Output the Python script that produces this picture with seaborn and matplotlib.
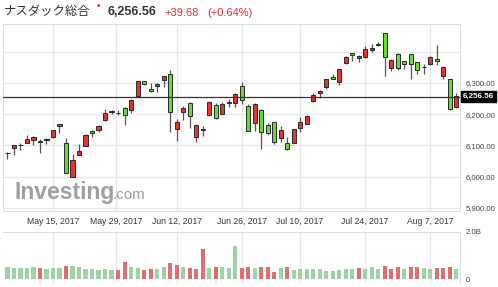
import matplotlib
matplotlib.use("Agg")
import matplotlib.pyplot as plt
import matplotlib.transforms as mtransforms
import seaborn as sns
import pandas as pd
import numpy as np

# ---------------- data ----------------
dates = ["May 4", "May 5", "May 8", "May 9", "May 10", "May 11", "May 12",
         "May 15", "May 16", "May 17", "May 18", "May 19",
         "May 22", "May 23", "May 24", "May 25", "May 26",
         "May 30", "May 31", "Jun 1", "Jun 2",
         "Jun 5", "Jun 6", "Jun 7", "Jun 8", "Jun 9",
         "Jun 12", "Jun 13", "Jun 14", "Jun 15", "Jun 16",
         "Jun 19", "Jun 20", "Jun 21", "Jun 22", "Jun 23",
         "Jun 26", "Jun 27", "Jun 28", "Jun 29", "Jun 30",
         "Jul 3", "Jul 5", "Jul 6", "Jul 7",
         "Jul 10", "Jul 11", "Jul 12", "Jul 13", "Jul 14",
         "Jul 17", "Jul 18", "Jul 19", "Jul 20", "Jul 21",
         "Jul 24", "Jul 25", "Jul 26", "Jul 27", "Jul 28",
         "Jul 31", "Aug 1", "Aug 2", "Aug 3", "Aug 4",
         "Aug 7", "Aug 8", "Aug 9", "Aug 10", "Aug 11"]

opens = [6075, 6091, 6101, 6109, 6118, 6110, 6116, 6127, 6161, 6107,
         5999, 6069, 6098, 6147, 6151, 6183, 6208, 6205, 6221, 6215,
         6257, 6305, 6280, 6289, 6310, 6330, 6152, 6206, 6237, 6126,
         6153, 6196, 6229, 6202, 6240, 6236, 6291, 6226, 6173, 6215,
         6164, 6174, 6123, 6108, 6109, 6155, 6170, 6241, 6268, 6288,
         6320, 6304, 6363, 6396, 6381, 6382, 6406, 6425, 6459, 6347,
         6393, 6371, 6392, 6366, 6350, 6360, 6376, 6322, 6313, 6223]

closes = [6077, 6100, 6103, 6120, 6127, 6114, 6120, 6148, 6169, 6012,
          6053, 6083, 6133, 6139, 6163, 6203, 6210, 6203, 6198, 6247,
          6306, 6296, 6275, 6298, 6321, 6208, 6175, 6220, 6194, 6165,
          6151, 6239, 6188, 6234, 6237, 6265, 6247, 6146, 6234, 6144,
          6140, 6110, 6151, 6089, 6153, 6176, 6194, 6261, 6275, 6313,
          6314, 6344, 6384, 6390, 6388, 6410, 6413, 6423, 6382, 6373,
          6348, 6362, 6361, 6341, 6351, 6384, 6370, 6352, 6217, 6257]

highs = [6080, 6102, 6107, 6135, 6129, 6121, 6125, 6151, 6170, 6124,
         6071, 6104, 6136, 6148, 6165, 6216, 6212, 6212, 6222, 6248,
         6308, 6307, 6301, 6301, 6324, 6341, 6184, 6227, 6238, 6168,
         6161, 6241, 6235, 6238, 6248, 6269, 6304, 6232, 6236, 6217,
         6171, 6175, 6161, 6126, 6154, 6190, 6199, 6267, 6279, 6314,
         6329, 6345, 6386, 6397, 6389, 6419, 6425, 6432, 6461, 6378,
         6396, 6372, 6393, 6367, 6362, 6386, 6422, 6353, 6314, 6267]

lows = [6055, 6068, 6084, 6108, 6103, 6077, 6105, 6125, 6140, 6011,
        5998, 6068, 6097, 6126, 6142, 6177, 6201, 6198, 6165, 6203,
        6256, 6293, 6272, 6272, 6287, 6143, 6113, 6183, 6155, 6110,
        6131, 6195, 6186, 6200, 6223, 6224, 6234, 6145, 6147, 6087,
        6132, 6106, 6111, 6085, 6108, 6144, 6168, 6240, 6252, 6282,
        6312, 6293, 6362, 6369, 6366, 6380, 6400, 6417, 6322, 6338,
        6341, 6346, 6314, 6330, 6330, 6358, 6359, 6314, 6215, 6221]

volume_b = [0.50, 0.46, 0.46, 0.46, 0.50, 0.46, 0.43, 0.47, 0.47, 0.56,
            0.54, 0.53, 0.43, 0.43, 0.39, 0.43, 0.39, 0.39, 0.72, 0.49,
            0.47, 0.39, 0.43, 0.43, 0.50, 0.67, 0.60, 0.53, 0.46, 0.43,
            1.29, 0.46, 0.49, 0.52, 0.47, 1.40, 0.46, 0.50, 0.46, 0.53,
            0.49, 0.29, 0.46, 0.52, 0.39, 0.42, 0.42, 0.42, 0.42, 0.36,
            0.36, 0.37, 0.42, 0.42, 0.46, 0.42, 0.50, 0.42, 0.56, 0.42,
            0.49, 0.42, 0.50, 0.50, 0.47, 0.42, 0.46, 0.46, 0.50, 0.42]

volume_dir = ["g", "g", "g", "g", "g", "r", "g", "g", "g", "r",
              "g", "g", "g", "g", "g", "g", "g", "r", "r", "g",
              "g", "r", "r", "g", "g", "r", "r", "g", "r", "r",
              "r", "g", "r", "g", "g", "g", "r", "r", "g", "r",
              "r", "r", "g", "r", "g", "g", "g", "g", "g", "g",
              "g", "g", "g", "g", "r", "g", "g", "g", "r", "r",
              "r", "g", "r", "r", "g", "g", "r", "r", "r", "g"]

tick_labels = ["May 15, 2017", "May 29, 2017", "Jun 12, 2017", "Jun 26, 2017",
               "Jul 10, 2017", "Jul 24, 2017", "Aug 7, 2017"]
tick_pos = [7, 16.7, 26, 36, 45, 55, 65]

price_ticks = [5900, 6000, 6100, 6200, 6300, 6400]
price_tick_labels = ["5,900.00", "6,000.00", "6,100.00", "6,200.00", "6,300.00", ""]

last_price = 6256.56
title_name = "ナスダック総合"
title_price = "6,256.56"
title_change = "+39.68"
title_pct = "(+0.64%)"

# ---------------- style ----------------
sns.set_style("white")
plt.rcParams["font.family"] = ["Liberation Sans", "DejaVu Sans"]

W, H = 498, 287
fig = plt.figure(figsize=(W / 100, H / 100), dpi=100)

def fx(px):
    return px / W

def fy(py):
    return 1 - py / H

grid_c = "#e6e6ee"
border_c = "#dcdce4"
up_c = "#e8332b"
down_c = "#66dd2e"

ax = fig.add_axes([fx(3), fy(211), fx(460) - fx(3), fy(24) - fy(211)])
axv = fig.add_axes([fx(3), fy(283), fx(460) - fx(3), fy(232) - fy(283)])

df = pd.DataFrame({"date": dates, "open": opens, "high": highs, "low": lows,
                   "close": closes, "vol": volume_b, "vdir": volume_dir})
df["i"] = np.arange(len(df))
df["up"] = df["close"] >= df["open"]
df["body_lo"] = df[["open", "close"]].min(axis=1)
df["body_h"] = (df["close"] - df["open"]).abs().clip(lower=0.9)

for t in price_ticks:
    ax.axhline(t, color=grid_c, lw=0.9, zorder=0)
for p in tick_pos:
    ax.axvline(p, color=grid_c, lw=0.9, zorder=0)
    axv.axvline(p, color=grid_c, lw=0.9, zorder=0)

# watermark
ax.text(fx(14), fy(199), "Investing", transform=fig.transFigure, fontsize=16.5,
        fontweight="bold", color="#8e8e8e", alpha=0.85, va="baseline", ha="left", zorder=1)
ax.text(fx(113), fy(199), ".com", transform=fig.transFigure, fontsize=11,
        color="#8e8e8e", alpha=0.85, va="baseline", ha="left", zorder=1)

# candles
ax.vlines(df["i"], df["low"], df["high"], color="#555555", lw=0.9, zorder=2)
ax.bar(df["i"], df["body_h"], bottom=df["body_lo"], width=0.62,
       color=[up_c if u else down_c for u in df["up"]],
       edgecolor="#2a2a2a", linewidth=0.7, zorder=3)

ax.axhline(last_price, color="#333333", lw=0.9, zorder=4)

ax.set_xlim(-0.69, 69.6)
ax.set_ylim(5890, 6489)
ax.set_yticks(price_ticks)
ax.set_yticklabels(price_tick_labels)
ax.yaxis.tick_right()
ax.tick_params(axis="y", length=0, pad=4, labelsize=5.6, labelcolor="#444444")
ax.set_xticks(tick_pos)
ax.set_xticklabels(tick_labels)
ax.tick_params(axis="x", length=0, pad=4.5, labelsize=6.2, labelcolor="#333333")
for s in ax.spines.values():
    s.set_color(border_c)
    s.set_linewidth(0.8)

trans = mtransforms.blended_transform_factory(ax.transAxes, ax.transData)
ax.text(1.006, last_price, title_price, transform=trans, fontsize=5.8,
        fontweight="bold", color="white", va="center", ha="left",
        bbox=dict(boxstyle="square,pad=0.25", fc="black", ec="black"), zorder=6,
        clip_on=False)

# volume (categorical positions 0..n-1)
pal = {"g": "#9dd4a6", "r": "#e06e6e"}
sns.barplot(data=df, x="date", y="vol", hue="vdir", order=dates, palette=pal,
            dodge=False, width=0.62, saturation=1, legend=False, ax=axv,
            edgecolor="none", zorder=3)
axv.set_xlim(-0.69, 69.6)
axv.set_ylim(-0.17, 2.0)
axv.set_yticks([0, 2.0])
axv.set_yticklabels(["0", "2.0B"])
axv.yaxis.tick_right()
axv.tick_params(axis="y", length=0, pad=4, labelsize=5.6, labelcolor="#444444")
axv.set_xticks([])
axv.set_xlabel("")
axv.set_ylabel("")
for k, s in axv.spines.items():
    s.set_color(border_c)
    s.set_linewidth(0.8)
axv.spines["bottom"].set_visible(False)
axv.spines["left"].set_visible(False)

# title
fig.text(fx(4), fy(12), title_name, family=["Noto Sans CJK JP", "DejaVu Sans"],
         fontsize=8.9, color="#333333", va="center", ha="left")
fig.text(fx(96.5), fy(6), "•", fontsize=7, color="#e53030", va="center", ha="left")
fig.text(fx(107), fy(12), title_price, fontsize=9, fontweight="bold",
         color="#333333", va="center", ha="left")
fig.text(fx(164), fy(12.5), title_change, fontsize=8, color="#e02a2a",
         va="center", ha="left")
fig.text(fx(207), fy(12.5), title_pct, fontsize=8, color="#e02a2a",
         va="center", ha="left")

fig.savefig("out.png", dpi=100)
